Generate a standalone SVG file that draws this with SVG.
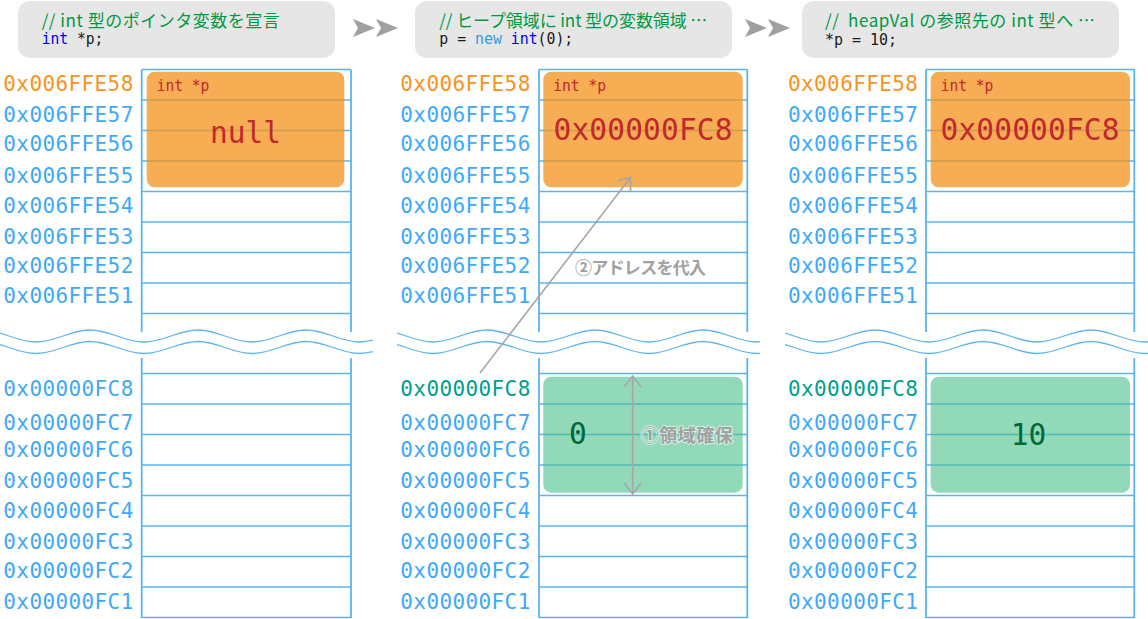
<svg xmlns="http://www.w3.org/2000/svg" width="1148" height="619" viewBox="0 0 1148 619">
<style>
.code{fill:#e6e6e6}
.cm{font-family:"Noto Sans CJK JP","Noto Sans",sans-serif;font-size:17px;fill:#009944}
.mono{font-family:"DejaVu Sans Mono","Liberation Mono",monospace;font-size:16px;fill:#1a1a1a}
.kw{fill:#0000ee}
.kw2{fill:#3399dd}
.addr{font-family:"DejaVu Sans Mono","Liberation Mono",monospace;font-size:21px;fill:#3fa9f5}
.a-or{fill:#f7931e}
.a-gr{fill:#00a08a}
.grid{stroke:#5bb4f0;stroke-width:1.3;fill:none}
.vgrid{stroke:#5bb4f0;stroke-width:1.8;fill:none}
.wave{stroke:#5bb4f0;stroke-width:1.3;fill:none}
.orange{fill:#f4921a;fill-opacity:0.75}
.green{fill:#48bf8a;fill-opacity:0.6}
.lbl{font-family:"DejaVu Sans Mono","Liberation Mono",monospace;font-size:16px;fill:#c1272d}
.big{font-family:"DejaVu Sans Mono","Liberation Mono",monospace;font-size:29.5px;fill:#c1272d}
.bigg{font-family:"DejaVu Sans Mono","Liberation Mono",monospace;font-size:29.5px;fill:#006837}
.note{font-family:"Noto Sans CJK JP","Noto Sans",sans-serif;font-weight:bold;fill:#a0a0a0;stroke:#ffffff;stroke-opacity:0.6;stroke-width:2;paint-order:stroke}
.conn{stroke:#a6a6a6;stroke-width:1.6;fill:none}
.step{fill:#a0a0a0}
</style>
<defs>
<marker id="ah" markerUnits="userSpaceOnUse" markerWidth="14" markerHeight="20" viewBox="0 0 14 20" refX="12" refY="10" orient="auto-start-reverse">
<path d="M1,1.5 L12,10 L1,18.5" fill="none" stroke="#a6a6a6" stroke-width="1.6"/>
</marker>
<path id="wv" d="M-18,0 C1.7,0 16.3,12 36,12 C55.7,12 70.3,0 90,0 C109.7,0 124.3,12 144,12 C163.7,12 178.3,0 198,0 C217.7,0 232.3,12 252,12 C271.7,12 286.3,0 306,0 C325.7,0 340.3,12 360,12 C379.7,12 394.3,0 414,0"/>
<clipPath id="c1"><rect x="0" y="320" width="373" height="40"/></clipPath>
<clipPath id="c2"><rect x="397" y="320" width="363" height="40"/></clipPath>
<clipPath id="c3"><rect x="785" y="320" width="363" height="40"/></clipPath>
<polygon id="tri" points="0,0 22,9 0,18 5,9"/>
</defs>

<!-- code boxes -->
<g id="code1">
<rect class="code" x="18" y="1" width="317" height="57" rx="12"/>
<text class="cm" x="41.7" y="26.7" textLength="238" lengthAdjust="spacing">// int 型のポインタ変数を宣言</text>
<text class="mono" x="41.7" y="44" xml:space="preserve" textLength="61.7" lengthAdjust="spacingAndGlyphs"><tspan class="kw">int</tspan> *p;</text>
</g>
<g id="code2">
<rect class="code" x="415" y="1" width="317" height="57" rx="12"/>
<text class="cm" x="439.3" y="26.7" textLength="268" lengthAdjust="spacing">// ヒープ領域に int 型の変数領域 …</text>
<text class="mono" x="439.3" y="43.5" xml:space="preserve" textLength="134" lengthAdjust="spacingAndGlyphs">p = <tspan class="kw2">new</tspan> <tspan class="kw">int</tspan>(0);</text>
</g>
<g id="code3">
<rect class="code" x="802" y="1" width="317" height="57" rx="12"/>
<text class="cm" x="825" y="27.3" textLength="270" lengthAdjust="spacing" xml:space="preserve">//  heapVal の参照先の int 型へ …</text>
<text class="mono" x="825" y="45" xml:space="preserve" textLength="72" lengthAdjust="spacingAndGlyphs">*p = 10;</text>
</g>

<g id="steps">
<use href="#tri" class="step" x="353" y="19"/>
<use href="#tri" class="step" x="376" y="19"/>
<use href="#tri" class="step" x="745" y="19"/>
<use href="#tri" class="step" x="768" y="19"/>
</g>

<!-- waves -->
<g id="waves">
<g clip-path="url(#c1)">
<use href="#wv" class="wave" x="0" y="330"/>
<use href="#wv" class="wave" x="0" y="341.5"/>
</g>
<g clip-path="url(#c2)">
<use href="#wv" class="wave" x="397" y="330"/>
<use href="#wv" class="wave" x="397" y="341.5"/>
</g>
<g clip-path="url(#c3)">
<use href="#wv" class="wave" x="785" y="330"/>
<use href="#wv" class="wave" x="785" y="341.5"/>
</g>
</g>

<!-- panel 1 -->
<g id="mem1">
<path class="vgrid" d="M141.7,69.5 V332 M351,69.5 V332 M141.7,358 V618 M351,358 V618"/>
<path class="grid" d="M141.7,69.5 H351 M141.7,100 H351 M141.7,130.5 H351 M141.7,161 H351 M141.7,191.5 H351 M141.7,222 H351 M141.7,252.5 H351 M141.7,283 H351 M141.7,313.5 H351 M141.7,373.5 H351 M141.7,404 H351 M141.7,434.5 H351 M141.7,465 H351 M141.7,495.5 H351 M141.7,526 H351 M141.7,556.5 H351 M141.7,587 H351 M141.7,617.5 H351"/>
</g>
<g id="addr1" class="addr">
<text x="3.3" y="91" textLength="130" class="a-or">0x006FFE58</text>
<text x="3.3" y="122" textLength="130">0x006FFE57</text>
<text x="3.3" y="150.5" textLength="130">0x006FFE56</text>
<text x="3.3" y="182.5" textLength="130">0x006FFE55</text>
<text x="3.3" y="213" textLength="130">0x006FFE54</text>
<text x="3.3" y="244" textLength="130">0x006FFE53</text>
<text x="3.3" y="272.5" textLength="130">0x006FFE52</text>
<text x="3.3" y="303" textLength="130">0x006FFE51</text>
<text x="3.3" y="396" textLength="130">0x00000FC8</text>
<text x="3.3" y="429.5" textLength="130">0x00000FC7</text>
<text x="3.3" y="456.5" textLength="130">0x00000FC6</text>
<text x="3.3" y="488" textLength="130">0x00000FC5</text>
<text x="3.3" y="518" textLength="130">0x00000FC4</text>
<text x="3.3" y="549" textLength="130">0x00000FC3</text>
<text x="3.3" y="577.5" textLength="130">0x00000FC2</text>
<text x="3.3" y="609" textLength="130">0x00000FC1</text>
</g>
<g id="p1">
<rect class="orange" x="146.7" y="71.7" width="197.6" height="115.6" rx="8"/>
<text class="lbl" x="156.7" y="91" textLength="52.7" lengthAdjust="spacingAndGlyphs">int *p</text>
<text class="big" x="245.5" y="143" text-anchor="middle">null</text>
</g>

<!-- panel 2 -->
<g id="mem2">
<path class="vgrid" d="M539,69.5 V332 M747.3,69.5 V332 M539,358 V618 M747.3,358 V618"/>
<path class="grid" d="M539,69.5 H747.3 M539,100 H747.3 M539,130.5 H747.3 M539,161 H747.3 M539,191.5 H747.3 M539,222 H747.3 M539,252.5 H747.3 M539,283 H747.3 M539,313.5 H747.3 M539,373.5 H747.3 M539,404 H747.3 M539,434.5 H747.3 M539,465 H747.3 M539,495.5 H747.3 M539,526 H747.3 M539,556.5 H747.3 M539,587 H747.3 M539,617.5 H747.3"/>
</g>
<g id="addr2" class="addr">
<text x="400.3" y="91" textLength="130" class="a-or">0x006FFE58</text>
<text x="400.3" y="122" textLength="130">0x006FFE57</text>
<text x="400.3" y="150.5" textLength="130">0x006FFE56</text>
<text x="400.3" y="182.5" textLength="130">0x006FFE55</text>
<text x="400.3" y="213" textLength="130">0x006FFE54</text>
<text x="400.3" y="244" textLength="130">0x006FFE53</text>
<text x="400.3" y="272.5" textLength="130">0x006FFE52</text>
<text x="400.3" y="303" textLength="130">0x006FFE51</text>
<text x="400.3" y="396" textLength="130" class="a-gr">0x00000FC8</text>
<text x="400.3" y="429.5" textLength="130">0x00000FC7</text>
<text x="400.3" y="456.5" textLength="130">0x00000FC6</text>
<text x="400.3" y="488" textLength="130">0x00000FC5</text>
<text x="400.3" y="518" textLength="130">0x00000FC4</text>
<text x="400.3" y="549" textLength="130">0x00000FC3</text>
<text x="400.3" y="577.5" textLength="130">0x00000FC2</text>
<text x="400.3" y="609" textLength="130">0x00000FC1</text>
</g>
<g id="p2">
<rect class="orange" x="543.3" y="71.7" width="199.4" height="115.6" rx="8"/>
<text class="lbl" x="553.3" y="91" textLength="52.7" lengthAdjust="spacingAndGlyphs">int *p</text>
<text class="big" x="643" y="140" text-anchor="middle" textLength="179">0x00000FC8</text>
</g>
<g id="heap2">
<rect class="green" x="543.3" y="376.7" width="199.4" height="116" rx="8"/>
<text class="bigg" x="569" y="443.5">0</text>
</g>

<!-- panel 3 -->
<g id="mem3">
<path class="vgrid" d="M926,69.5 V332 M1134.3,69.5 V332 M926,358 V618 M1134.3,358 V618"/>
<path class="grid" d="M926,69.5 H1134.3 M926,100 H1134.3 M926,130.5 H1134.3 M926,161 H1134.3 M926,191.5 H1134.3 M926,222 H1134.3 M926,252.5 H1134.3 M926,283 H1134.3 M926,313.5 H1134.3 M926,373.5 H1134.3 M926,404 H1134.3 M926,434.5 H1134.3 M926,465 H1134.3 M926,495.5 H1134.3 M926,526 H1134.3 M926,556.5 H1134.3 M926,587 H1134.3 M926,617.5 H1134.3"/>
</g>
<g id="addr3" class="addr">
<text x="788" y="91" textLength="130" class="a-or">0x006FFE58</text>
<text x="788" y="122" textLength="130">0x006FFE57</text>
<text x="788" y="150.5" textLength="130">0x006FFE56</text>
<text x="788" y="182.5" textLength="130">0x006FFE55</text>
<text x="788" y="213" textLength="130">0x006FFE54</text>
<text x="788" y="244" textLength="130">0x006FFE53</text>
<text x="788" y="272.5" textLength="130">0x006FFE52</text>
<text x="788" y="303" textLength="130">0x006FFE51</text>
<text x="788" y="396" textLength="130" class="a-gr">0x00000FC8</text>
<text x="788" y="429.5" textLength="130">0x00000FC7</text>
<text x="788" y="456.5" textLength="130">0x00000FC6</text>
<text x="788" y="488" textLength="130">0x00000FC5</text>
<text x="788" y="518" textLength="130">0x00000FC4</text>
<text x="788" y="549" textLength="130">0x00000FC3</text>
<text x="788" y="577.5" textLength="130">0x00000FC2</text>
<text x="788" y="609" textLength="130">0x00000FC1</text>
</g>
<g id="p3">
<rect class="orange" x="930.7" y="71.7" width="199.3" height="115.6" rx="8"/>
<text class="lbl" x="940.7" y="91" textLength="52.7" lengthAdjust="spacingAndGlyphs">int *p</text>
<text class="big" x="1030" y="140" text-anchor="middle" textLength="179">0x00000FC8</text>
</g>
<g id="heap3">
<rect class="green" x="930.7" y="376.7" width="199.3" height="116" rx="8"/>
<text class="bigg" x="1028.5" y="445" text-anchor="middle">10</text>
</g>

<!-- connectors -->
<g id="connectors">
<path class="conn" d="M480,373 L630.5,177.5" marker-end="url(#ah)"/>
<path class="conn" d="M632.7,376 L632.7,494" marker-start="url(#ah)" marker-end="url(#ah)"/>
<text class="note" x="575" y="274" font-size="17" textLength="131" lengthAdjust="spacing">②アドレスを代入</text>
<text class="note" x="640.7" y="441.5" font-size="18" textLength="92" lengthAdjust="spacing">①領域確保</text>
</g>
</svg>
